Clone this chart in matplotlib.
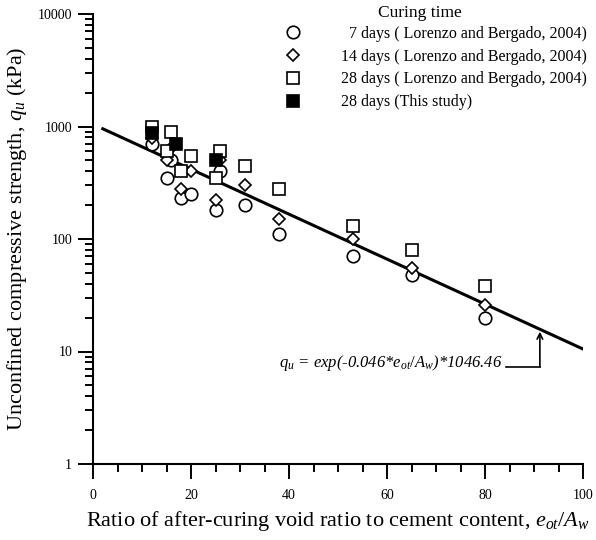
import numpy as np
import matplotlib
matplotlib.use("Agg")
import matplotlib.pyplot as plt
from matplotlib.ticker import LogLocator, MultipleLocator, NullFormatter

plt.rcParams['font.family'] = ['Liberation Serif', 'DejaVu Serif']
plt.rcParams['mathtext.fontset'] = 'custom'
plt.rcParams['mathtext.rm'] = 'Liberation Serif'
plt.rcParams['mathtext.it'] = 'Liberation Serif:italic'
plt.rcParams['mathtext.bf'] = 'Liberation Serif:bold'

# data
x_7d = [12, 15, 16, 18, 20, 25, 26, 31, 38, 53, 65, 80]
q_7d = [700, 350, 500, 230, 250, 180, 400, 200, 110, 70, 48, 20]

x_14d = [12, 15, 16, 18, 20, 25, 26, 31, 38, 53, 65, 80]
q_14d = [790, 500, 650, 280, 400, 220, 500, 300, 150, 100, 55, 26]

x_28d = [12, 15, 16, 18, 20, 25, 26, 31, 38, 53, 65, 80]
q_28d = [1000, 600, 900, 400, 550, 350, 600, 450, 280, 130, 80, 38]

x_this = [12, 17, 25]
q_this = [880, 700, 500]

fit_a = 1046.46
fit_b = -0.046
fit_x = np.linspace(2, 100, 200)
fit_q = fit_a * np.exp(fit_b * fit_x)

labels = ["\u20077 days ( Lorenzo and Bergado, 2004)",
          "14 days ( Lorenzo and Bergado, 2004)",
          "28 days ( Lorenzo and Bergado, 2004)",
          "28 days (This study)"]

fig = plt.figure(figsize=(5.96, 5.40), dpi=100)
ax = fig.add_axes([93/596, 1 - 464/540, 490/596, 450/540])

mk = dict(linestyle='none', markeredgecolor='black', markeredgewidth=1.2)
ax.plot(fit_x, fit_q, color='black', lw=2.2, zorder=2)
ax.plot(x_7d, q_7d, marker='o', ms=9, markerfacecolor='white', label=labels[0], zorder=3, **mk)
ax.plot(x_14d, q_14d, marker='D', ms=6.5, markerfacecolor='white', label=labels[1], zorder=4, **mk)
ax.plot(x_28d, q_28d, marker='s', ms=8.3, markerfacecolor='white', label=labels[2], zorder=5, **mk)
ax.plot(x_this, q_this, marker='s', ms=8.3, markerfacecolor='black', label=labels[3], zorder=6, **mk)

ax.set_yscale('log')
ax.set_xlim(0, 100)
ax.set_ylim(1, 10000)
ax.xaxis.set_major_locator(MultipleLocator(20))
ax.xaxis.set_minor_locator(MultipleLocator(5))
ax.yaxis.set_minor_locator(LogLocator(base=10, subs=np.arange(2, 10), numticks=20))
ax.yaxis.set_minor_formatter(NullFormatter())
ax.set_yticks([1, 10, 100, 1000, 10000])
ax.set_yticklabels(['1', '10', '100', '1000', '10000'])

for s in ['top', 'right']:
    ax.spines[s].set_visible(False)
for s in ['left', 'bottom']:
    ax.spines[s].set_linewidth(1.5)

ax.tick_params(which='major', direction='out', length=11, width=1.4, labelsize=10)
ax.tick_params(which='minor', direction='out', length=6, width=1.4)
ax.tick_params(axis='x', which='major', pad=7)
ax.tick_params(axis='y', which='major', pad=4)

ax.set_xlabel("Ratio of after-curing void ratio to cement content, $e_{ot}/A_w$", fontsize=16, labelpad=5)
ax.set_ylabel("Unconfined compressive strength, $q_u$ (kPa)", fontsize=16, labelpad=6)

# legend without frame, title drawn separately
ax.legend(loc='upper left', bbox_to_anchor=(277/596, 1 - 26/540), bbox_transform=fig.transFigure,
          frameon=False, fontsize=11.5, handlelength=2.0, handletextpad=2.0,
          labelspacing=0.42, borderpad=0, borderaxespad=0)
fig.text(420/596, 1 - 13/540, "Curing time", ha='center', va='center', fontsize=12.5)

# equation label with leader arrow
ax.plot([84.3, 91.2], [7.28, 7.28], color='black', lw=1.2)
ax.annotate("", xy=(91.2, 15.0), xytext=(91.2, 7.28),
            arrowprops=dict(arrowstyle='->', color='black', lw=1.2, shrinkA=0, shrinkB=0))
ax.text(83.6, 7.28, r"$q_u$ = exp(-0.046*$e_{ot}/A_w$)*1046.46", ha='right', va='baseline',
        fontsize=12, style='italic')

fig.savefig("out.png", dpi=100)
